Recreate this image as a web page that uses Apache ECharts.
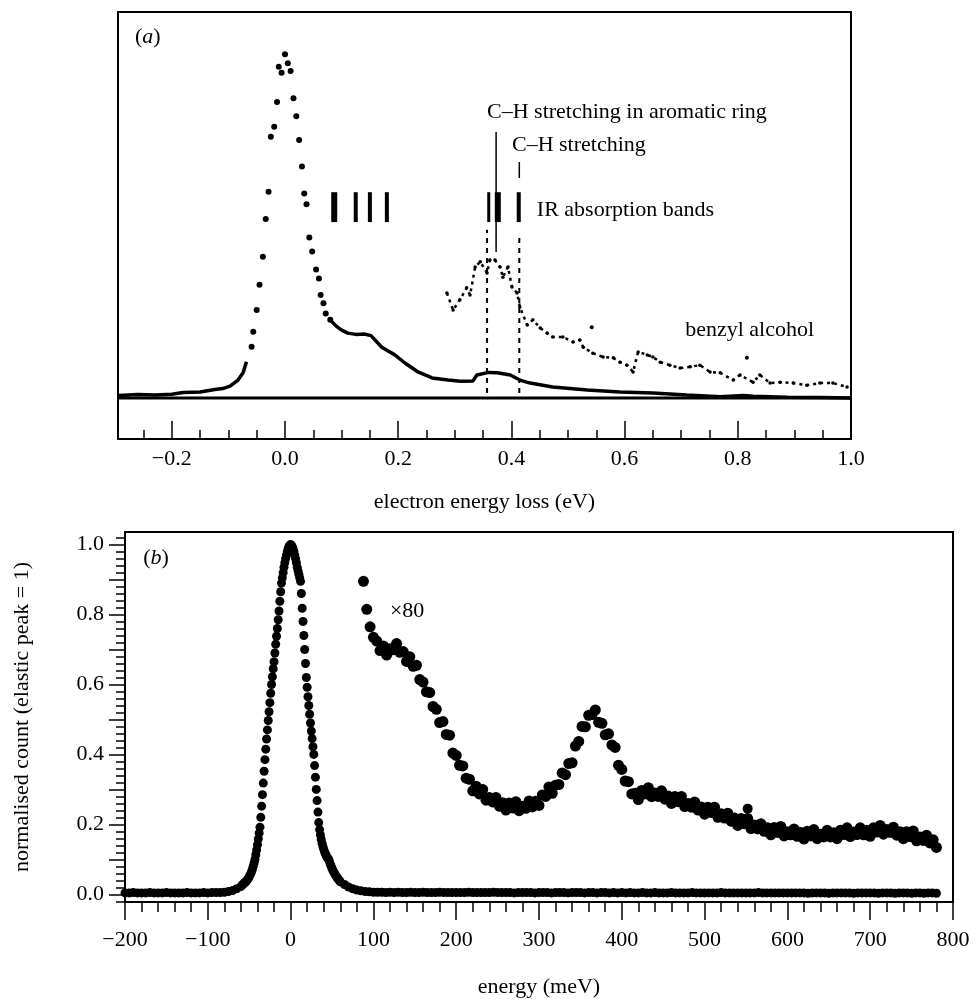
<!DOCTYPE html>
<html><head><meta charset="utf-8">
<script src="https://cdn.jsdelivr.net/npm/echarts@6/dist/echarts.min.js"></script>
<style>html,body{margin:0;padding:0;background:#fff}#c{width:975px;height:999px}</style>
</head><body><div id="c"></div>
<script>
// ================= Panel (a): electron energy loss (eV) vs intensity (arb.) =================
const aLabelValues = [-0.2, 0, 0.2, 0.4, 0.6, 0.8, 1.0];
const aMajorTicks = [-0.2, 0, 0.2, 0.4, 0.6, 0.8];
// flat zero level
const aZeroE = [-0.295, 1.0];
const aZeroI = [9.6, 9.6];
// low-energy tail (continuous)
const aLeftE = [-0.295,-0.26,-0.23,-0.2,-0.18,-0.15,-0.124,-0.11,-0.097,-0.083,-0.074,-0.068];
const aLeftI = [10.2,10.4,10.3,10.5,10.9,11.0,11.6,11.8,12.4,13.8,15.5,18.1];
// elastic peak dots
const aPeakE = [-0.059,-0.056,-0.050,-0.045,-0.039,-0.034,-0.029,-0.025,-0.019,-0.014,-0.011,-0.006,0.000,0.005,0.010,0.015,0.020,0.025,0.030,0.034,0.038,0.043,0.048,0.055,0.060,0.063,0.068,0.072,0.080];
const aPeakI = [21.6,25.1,30.2,36.1,42.7,51.5,57.9,70.8,73.1,78.9,87.2,85.8,90.1,88.0,86.2,79.8,75.6,70.0,63.8,57.5,55.0,47.2,43.9,39.7,37.6,33.7,31.8,29.4,27.9];
// loss tail (continuous)
const aRightE = [0.080,0.090,0.100,0.111,0.125,0.140,0.152,0.171,0.194,0.212,0.235,0.260,0.288,0.310,0.332,0.339,0.360,0.375,0.398,0.415,0.433,0.473,0.534,0.592,0.650,0.710,0.769,0.810,0.827,0.887,0.945,1.0];
const aRightI = [27.9,26.5,25.5,24.8,24.5,24.6,24.2,21.5,19.7,17.8,15.7,14.3,13.8,13.5,13.6,15.0,15.6,15.5,15.0,13.8,13.1,12.2,11.5,11.0,10.8,10.3,9.9,10.2,10.0,9.8,9.7,9.6];
// benzyl alcohol (magnified, dotted)
const bzE = [0.286,0.297,0.309,0.321,0.327,0.336,0.345,0.357,0.362,0.371,0.380,0.385,0.394,0.401,0.410,0.415,0.428,0.438,0.451,0.463,0.473,0.491,0.509,0.521,0.527,0.544,0.562,0.580,0.592,0.604,0.615,0.624,0.640,0.650,0.663,0.680,0.698,0.716,0.733,0.751,0.769,0.792,0.804,0.827,0.839,0.857,0.875,0.898,0.922,0.945,0.968,0.993];
const bzI = [34.2,30.2,32.6,35.4,33.7,40.3,41.5,38.9,41.9,41.9,40.3,37.9,40.3,35.6,34.2,30.9,26.7,27.9,26.0,24.8,23.9,23.9,22.7,23.2,21.5,20.1,19.2,19.0,18.0,17.3,15.7,20.4,19.7,19.2,18.0,17.3,16.6,16.9,17.3,15.7,15.5,13.8,15.0,13.3,15.0,13.1,13.3,13.1,12.6,13.1,13.1,12.2];
const bzOutE = [0.542, 0.816];
const bzOutI = [26.2, 19.0];
// dashed guides
const guideE = [0.357, 0.414];
const guideLow = [10.8, 10.8];
const guideHigh = [49.0, 48.2];
// IR absorption bands
const irBandE = [0.087, 0.125, 0.150, 0.180, 0.360, 0.376, 0.413];
const irBandLow = 50.8, irBandHigh = 57.8;
const irBarWidths = [6, 4, 4, 4, 3, 6, 4];
// annotation leader lines
const leaderE = [0.373, 0.414];
const leaderLow = [43.8, 61.1];
const leaderHigh = [71.9, 64.9];

// ================= Panel (b): energy (meV) vs normalised count =================
const bLabelValues = [0, 0.2, 0.4, 0.6, 0.8, 1.0];
// elastic peak: low-energy tail (step 5 meV from -200)
const elLeftStart = -200, elLeftStep = 5;
const elLeftCounts = [0.004,0.004,0.005,0.004,0.004,0.004,0.005,0.004,0.004,0.004,
0.005,0.004,0.004,0.004,0.004,0.005,0.004,0.004,0.004,0.005,
0.004,0.005,0.005,0.005,0.006,0.008,0.011,0.016];
// elastic peak core (step 1 meV from -60)
const elPeakStart = -60, elPeakStep = 1;
const elPeakCounts = [0.022,0.025,0.027,0.030,0.032,0.034,0.036,0.039,0.042,0.046,
0.050,0.055,0.060,0.066,0.073,0.081,0.090,0.100,0.113,0.127,
0.142,0.158,0.175,0.192,0.220,0.252,0.285,0.318,0.352,0.385,
0.415,0.444,0.470,0.497,0.522,0.548,0.575,0.600,0.622,0.645,
0.665,0.690,0.715,0.738,0.760,0.785,0.810,0.838,0.865,0.890,
0.905,0.920,0.935,0.948,0.960,0.970,0.980,0.988,0.994,0.998,
1.000,
0.998,0.994,0.988,0.980,0.970,0.960,0.948,0.935,0.925,0.915,
0.905,0.895,0.860,0.818,0.780,0.740,0.700,0.660,0.620,0.592,
0.565,0.540,0.515,0.490,0.467,0.445,0.422,0.400,0.368,0.335,
0.300,0.268,0.235,0.205,0.185,0.170,0.157,0.146,0.137,0.129,
0.122,0.116,0.111,0.106,0.103,0.100,0.093,0.086,0.080,0.074,
0.069,0.064,0.060,0.056,0.052,0.048,0.045,0.042,0.039,0.036];
// elastic high-energy tail (step 5 meV from 65)
const elRightStart = 65, elRightStep = 5;
const elRightCounts = [0.028,0.021,0.016,0.012,0.010,0.008,0.007,0.006,
0.006,0.006,0.005,0.006,0.005,0.006,0.005,0.005,0.006,0.005,0.005,0.006,0.005,0.005,0.005,0.006,0.005,0.005,0.005,0.005,
0.005,0.005,0.006,0.005,0.005,0.005,0.005,0.005,0.006,0.005,0.005,0.005,0.005,0.004,0.005,0.005,0.005,0.005,0.004,0.005,
0.005,0.005,0.004,0.005,0.005,0.005,0.004,0.005,0.005,0.005,0.004,0.005,0.005,0.004,0.005,0.005,0.004,0.005,0.004,0.005,
0.004,0.005,0.004,0.004,0.005,0.004,0.004,0.005,0.004,0.004,0.004,0.005,0.004,0.004,0.004,0.004,0.005,0.004,0.004,0.004,
0.004,0.004,0.004,0.005,0.004,0.004,0.004,0.004,0.004,0.004,0.004,0.004,0.005,0.004,0.004,0.004,0.004,0.004,0.004,0.004,
0.004,0.004,0.004,0.004,0.003,0.004,0.004,0.004,0.004,0.003,0.004,0.004,0.004,0.004,0.004,0.003,0.004,0.004,0.004,0.004,
0.004,0.003,0.004,0.004,0.004,0.003,0.004,0.004,0.004,0.003,0.004,0.004,0.003,0.004,0.004,0.003];
// loss spectrum x80 (step 4 meV from 88)
const x80Start = 88, x80Step = 4;
const x80Counts = [0.895,0.815,0.765,0.735,0.724,0.697,0.71,0.684,0.702,0.699,
0.717,0.692,0.694,0.666,0.679,0.652,0.655,0.614,0.607,0.579,
0.577,0.537,0.529,0.491,0.494,0.457,0.455,0.404,0.397,0.369,
0.367,0.332,0.329,0.296,0.309,0.287,0.30,0.269,0.277,0.264,
0.277,0.252,0.262,0.241,0.261,0.247,0.265,0.239,0.252,0.246,
0.267,0.25,0.266,0.254,0.284,0.28,0.307,0.289,0.312,0.314,
0.347,0.342,0.374,0.376,0.424,0.437,0.48,0.479,0.512,0.514,
0.527,0.492,0.489,0.456,0.459,0.427,0.42,0.369,0.357,0.324,
0.322,0.287,0.289,0.271,0.297,0.287,0.305,0.279,0.29,0.28,
0.296,0.272,0.281,0.26,0.28,0.265,0.28,0.251,0.26,0.249,
0.264,0.241,0.25,0.229,0.249,0.234,0.249,0.22,0.23,0.218,
0.232,0.209,0.218,0.197,0.217,0.202,0.217,0.188,0.198,0.187,
0.202,0.18,0.19,0.17,0.191,0.177,0.194,0.167,0.179,0.17,
0.187,0.166,0.177,0.158,0.18,0.167,0.185,0.159,0.172,0.164,
0.183,0.164,0.176,0.159,0.183,0.171,0.19,0.165,0.178,0.171,
0.19,0.17,0.183,0.166,0.19,0.178,0.197,0.172,0.185,0.177,
0.192,0.169,0.179,0.159,0.179,0.165,0.181,0.153,0.164,0.154,
0.169,0.147,0.156,0.134];
const x80OutE = [552];
const x80OutI = [0.245];

// ================= build =================
const FONT = '"Liberation Serif","Times New Roman",serif';
const zip = (xs, ys) => xs.map((x, i) => [x, ys[i]]);
const grid = (start, step, vals) => vals.map((v, i) => [start + i * step, v]);
const minus = (v, d) => { const s = Math.abs(v).toFixed(d); return v < -1e-9 ? '\u2212' + s : s; };

const aMinorTicks = [];
for (let i = -5; i <= 19; i++) if (i % 4 !== 0) aMinorTicks.push(+(i * 0.05).toFixed(2));
const bMajorTicks = [];
for (let i = 0; i <= 10; i++) bMajorTicks.push(+(i * 0.1).toFixed(1));
const bMinorTicks = [];
for (let i = -1; i <= 51; i++) if (i % 5 !== 0) bMinorTicks.push(+(i * 0.02).toFixed(2));

const black = '#000';
const tickStyle = { color: black, width: 1.5 };
const dot = { color: black, opacity: 1, borderWidth: 0, borderColor: 'transparent' };

const series = [];
// panel a
series.push({ type: 'line', xAxisIndex: 0, yAxisIndex: 0, data: zip(aZeroE, aZeroI), showSymbol: false, lineStyle: { color: black, width: 3 }, silent: true });
series.push({ type: 'line', xAxisIndex: 0, yAxisIndex: 0, data: zip(aLeftE, aLeftI), showSymbol: false, lineStyle: { color: black, width: 3.5 } });
series.push({ type: 'line', xAxisIndex: 0, yAxisIndex: 0, data: zip(aRightE, aRightI), showSymbol: false, lineStyle: { color: black, width: 3.5 } });
series.push({ type: 'scatter', xAxisIndex: 0, yAxisIndex: 0, data: zip(aPeakE, aPeakI), symbolSize: 6, itemStyle: dot });
series.push({ type: 'line', xAxisIndex: 0, yAxisIndex: 0, data: zip(bzE, bzI), showSymbol: true, symbol: 'circle', symbolSize: 3.5, itemStyle: dot, lineStyle: { color: black, width: 2.5, type: [3, 4] } });
series.push({ type: 'scatter', xAxisIndex: 0, yAxisIndex: 0, data: zip(bzOutE, bzOutI), symbolSize: 4, itemStyle: dot });
guideE.forEach((e, i) => series.push({ type: 'line', xAxisIndex: 0, yAxisIndex: 0, data: [[e, guideLow[i]], [e, guideHigh[i]]], showSymbol: false, lineStyle: { color: black, width: 2, type: [5, 5] } }));
leaderE.forEach((e, i) => series.push({ type: 'line', xAxisIndex: 0, yAxisIndex: 0, data: [[e, leaderLow[i]], [e, leaderHigh[i]]], showSymbol: false, lineStyle: { color: black, width: 1.5 } }));
series.push({
  type: 'custom', xAxisIndex: 0, yAxisIndex: 0,
  data: irBandE.map(e => [e, irBandLow, irBandHigh]),
  renderItem: (params, api) => {
    const p1 = api.coord([api.value(0), api.value(1)]);
    const p2 = api.coord([api.value(0), api.value(2)]);
    const w = irBarWidths[params.dataIndex];
    return { type: 'rect', shape: { x: p1[0] - w / 2, y: p2[1], width: w, height: p1[1] - p2[1] }, style: { fill: black } };
  }
});
// panel b
const elData = grid(elLeftStart, elLeftStep, elLeftCounts)
  .concat(grid(elPeakStart, elPeakStep, elPeakCounts))
  .concat(grid(elRightStart, elRightStep, elRightCounts));
series.push({ type: 'scatter', xAxisIndex: 2, yAxisIndex: 1, data: elData, symbolSize: 9, itemStyle: dot, clip: false });
series.push({ type: 'scatter', xAxisIndex: 2, yAxisIndex: 1, data: grid(x80Start, x80Step, x80Counts), symbolSize: 11, itemStyle: dot });
series.push({ type: 'scatter', xAxisIndex: 2, yAxisIndex: 1, data: zip(x80OutE, x80OutI), symbolSize: 10, itemStyle: dot });

const chart = echarts.init(document.getElementById('c'), null, { renderer: 'canvas' });
chart.setOption({
  animation: false,
  backgroundColor: '#fff',
  textStyle: { fontFamily: FONT, color: black },
  grid: [
    { left: 118, top: 12, width: 733, height: 427, show: true, borderColor: black, borderWidth: 2, backgroundColor: 'transparent' },
    { left: 125, top: 532, width: 828, height: 373, show: true, borderColor: black, borderWidth: 2, backgroundColor: 'transparent' }
  ],
  xAxis: [
    { type: 'value', gridIndex: 0, position: 'bottom', min: -0.295, max: 1.0,
      axisLine: { onZero: false, lineStyle: { color: black, width: 2 } },
      axisTick: { inside: true, length: 18, customValues: aMajorTicks, lineStyle: tickStyle },
      axisLabel: { customValues: aLabelValues, formatter: v => minus(v, 1), fontFamily: FONT, fontSize: 22, color: black, margin: 9 },
      splitLine: { show: false },
      name: 'electron energy loss (eV)', nameLocation: 'middle', nameGap: 52,
      nameTextStyle: { fontFamily: FONT, fontSize: 22, color: black } },
    { type: 'value', gridIndex: 0, position: 'bottom', offset: 0, min: -0.295, max: 1.0,
      axisLine: { show: false, onZero: false },
      axisTick: { inside: true, length: 9, customValues: aMinorTicks, lineStyle: tickStyle },
      axisLabel: { show: false }, splitLine: { show: false } },
    { type: 'value', gridIndex: 1, position: 'bottom', min: -200, max: 800, interval: 100,
      axisLine: { onZero: false, lineStyle: { color: black, width: 2 } },
      axisTick: { inside: false, length: 18, lineStyle: tickStyle },
      minorTick: { show: true, splitNumber: 5, length: 10, lineStyle: tickStyle },
      axisLabel: { formatter: v => minus(v, 0), fontFamily: FONT, fontSize: 22, color: black, margin: 27, showMaxLabel: true, showMinLabel: true },
      splitLine: { show: false },
      name: 'energy (meV)', nameLocation: 'middle', nameGap: 74,
      nameTextStyle: { fontFamily: FONT, fontSize: 22, color: black } }
  ],
  yAxis: [
    { type: 'value', gridIndex: 0, min: 0, max: 100, show: false },
    { type: 'value', gridIndex: 1, position: 'left', min: -0.022, max: 1.036,
      axisLine: { onZero: false, lineStyle: { color: black, width: 2 } },
      axisTick: { inside: false, length: 16, customValues: bMajorTicks, lineStyle: tickStyle },
      axisLabel: { customValues: bLabelValues, formatter: v => minus(v, 1), fontFamily: FONT, fontSize: 22, color: black, margin: 21 },
      splitLine: { show: false },
      name: 'normalised count (elastic peak = 1)', nameLocation: 'middle', nameGap: 92,
      nameTextStyle: { fontFamily: FONT, fontSize: 22, color: black } },
    { type: 'value', gridIndex: 1, position: 'left', offset: 0, min: -0.022, max: 1.036,
      axisLine: { show: false, onZero: false },
      axisTick: { inside: false, length: 9, customValues: bMinorTicks, lineStyle: tickStyle },
      axisLabel: { show: false }, splitLine: { show: false } }
  ],
  series
});

// text annotations anchored in data coordinates
const annA = [
  { e: -0.265, i: 94.1, text: '{n|(}{i|a}{n|)}' },
  { e: 0.357, i: 76.6, text: 'C\u2013H stretching in aromatic ring' },
  { e: 0.401, i: 68.9, text: 'C\u2013H stretching' },
  { e: 0.445, i: 53.6, text: 'IR absorption bands' },
  { e: 0.707, i: 25.5, text: 'benzyl alcohol' }
];
const annB = [
  { e: -178, i: 0.962, text: '{n|(}{i|b}{n|)}' },
  { e: 120, i: 0.809, text: '\u00d780' }
];
const rich = { n: { fontFamily: FONT, fontSize: 22, fill: black }, i: { fontFamily: FONT, fontSize: 22, fontStyle: 'italic', fill: black } };
const mk = (p, t) => ({ type: 'text', x: p[0], y: p[1], style: { text: t, fontFamily: FONT, fontSize: 22, fill: black, textVerticalAlign: 'middle', verticalAlign: 'middle', rich } });
const graphics = [];
annA.forEach(a => graphics.push(mk(chart.convertToPixel({ xAxisIndex: 0, yAxisIndex: 0 }, [a.e, a.i]), a.text)));
annB.forEach(a => graphics.push(mk(chart.convertToPixel({ xAxisIndex: 2, yAxisIndex: 1 }, [a.e, a.i]), a.text)));
chart.setOption({ graphic: graphics });
</script></body></html>
